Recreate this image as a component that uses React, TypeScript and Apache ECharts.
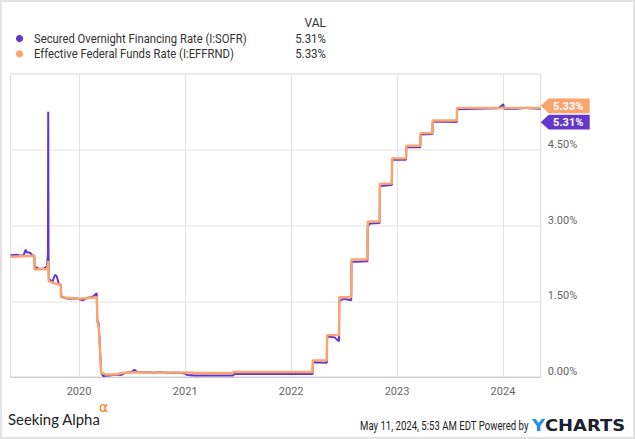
import React, { useEffect, useRef } from 'react';
import * as echarts from 'echarts';

const SERIES_NAMES = [
  'Secured Overnight Financing Rate (I:SOFR)',
  'Effective Federal Funds Rate (I:EFFRND)',
];
const SERIES_COLORS = ['#6536c9', '#fba56c'];
const LATEST_VALUES = [5.31, 5.33];
const VALUE_HEADER = 'VAL';
const X_MIN = '2019-05-10';
const X_MAX = '2024-05-10';
const Y_MIN = 0;
const Y_MAX = 6;
const Y_STEP = 1.5;
const FOOTER_BRAND = 'Seeking Alpha';
const FOOTER_ALPHA = 'α';
const FOOTER_DATE = 'May 11, 2024, 5:53 AM EDT Powered by';

const SOFR: [string, number][] = [
  ['2019-05-10', 2.41], ['2019-05-31', 2.42], ['2019-06-14', 2.40], ['2019-06-24', 2.41],
  ['2019-07-01', 2.52], ['2019-07-05', 2.47], ['2019-07-16', 2.46], ['2019-07-24', 2.41],
  ['2019-07-31', 2.40], ['2019-08-01', 2.19], ['2019-08-15', 2.14], ['2019-09-03', 2.15],
  ['2019-09-13', 2.20], ['2019-09-16', 2.43], ['2019-09-17', 5.25], ['2019-09-18', 2.55],
  ['2019-09-19', 1.95], ['2019-09-24', 1.92], ['2019-10-01', 1.88], ['2019-10-10', 2.02],
  ['2019-10-16', 2.00], ['2019-10-24', 1.83], ['2019-10-31', 1.82], ['2019-11-01', 1.60],
  ['2019-11-15', 1.56], ['2019-12-02', 1.55], ['2019-12-16', 1.56], ['2019-12-31', 1.55],
  ['2020-01-02', 1.54], ['2020-01-15', 1.52], ['2020-01-31', 1.57], ['2020-02-10', 1.58],
  ['2020-02-20', 1.60], ['2020-03-02', 1.66], ['2020-03-04', 1.12], ['2020-03-09', 1.05],
  ['2020-03-16', 0.26], ['2020-03-17', 0.10], ['2020-03-24', 0.02], ['2020-04-15', 0.03],
  ['2020-05-11', 0.05], ['2020-05-25', 0.04], ['2020-06-08', 0.08], ['2020-06-30', 0.10],
  ['2020-07-10', 0.14], ['2020-07-20', 0.10], ['2020-08-17', 0.09], ['2020-09-01', 0.10],
  ['2020-09-15', 0.08], ['2020-10-01', 0.10], ['2020-10-20', 0.09], ['2020-11-16', 0.08],
  ['2020-12-01', 0.09], ['2020-12-31', 0.07], ['2021-01-08', 0.04], ['2021-02-01', 0.03],
  ['2021-03-01', 0.03], ['2021-04-15', 0.03], ['2021-05-20', 0.03], ['2021-06-16', 0.03],
  ['2021-06-17', 0.06], ['2021-08-02', 0.06], ['2021-09-30', 0.06], ['2021-12-31', 0.06],
  ['2022-03-16', 0.06], ['2022-03-17', 0.29], ['2022-05-04', 0.28], ['2022-05-05', 0.80],
  ['2022-05-20', 0.79], ['2022-06-01', 0.78], ['2022-06-10', 0.73], ['2022-06-15', 0.71],
  ['2022-06-16', 1.50], ['2022-06-30', 1.55], ['2022-07-27', 1.52], ['2022-07-28', 2.28],
  ['2022-08-15', 2.28], ['2022-09-21', 2.29], ['2022-09-22', 2.98], ['2022-09-30', 3.04],
  ['2022-11-02', 3.05], ['2022-11-03', 3.78], ['2022-12-14', 3.80], ['2022-12-15', 4.30],
  ['2023-02-01', 4.30], ['2023-02-02', 4.55], ['2023-03-22', 4.55], ['2023-03-23', 4.80],
  ['2023-05-03', 4.81], ['2023-05-04', 5.06], ['2023-07-26', 5.05], ['2023-07-27', 5.30],
  ['2023-09-29', 5.31], ['2023-10-02', 5.31], ['2023-12-15', 5.32], ['2023-12-29', 5.38],
  ['2024-01-02', 5.40], ['2024-01-05', 5.31], ['2024-02-15', 5.31], ['2024-03-28', 5.33],
  ['2024-04-01', 5.32], ['2024-05-10', 5.31],
];

const EFFR: [string, number][] = [
  ['2019-05-10', 2.38], ['2019-07-31', 2.40], ['2019-08-01', 2.13], ['2019-09-13', 2.14],
  ['2019-09-16', 2.25], ['2019-09-17', 2.30], ['2019-09-18', 2.25], ['2019-09-19', 1.90],
  ['2019-10-10', 1.85], ['2019-10-30', 1.83], ['2019-10-31', 1.58], ['2019-12-31', 1.55],
  ['2020-01-02', 1.55], ['2020-03-03', 1.58], ['2020-03-04', 1.09], ['2020-03-09', 1.00],
  ['2020-03-16', 0.25], ['2020-03-17', 0.10], ['2020-03-20', 0.08], ['2020-04-01', 0.05],
  ['2020-05-01', 0.05], ['2020-06-01', 0.08], ['2020-07-01', 0.09], ['2020-12-31', 0.09],
  ['2021-01-04', 0.09], ['2021-03-01', 0.08], ['2021-06-16', 0.08], ['2021-06-17', 0.10],
  ['2022-03-16', 0.10], ['2022-03-17', 0.33], ['2022-05-04', 0.33], ['2022-05-05', 0.83],
  ['2022-06-15', 0.83], ['2022-06-16', 1.58], ['2022-07-27', 1.58], ['2022-07-28', 2.33],
  ['2022-09-21', 2.33], ['2022-09-22', 3.08], ['2022-11-02', 3.08], ['2022-11-03', 3.83],
  ['2022-12-14', 3.83], ['2022-12-15', 4.33], ['2023-02-01', 4.33], ['2023-02-02', 4.58],
  ['2023-03-22', 4.58], ['2023-03-23', 4.83], ['2023-05-03', 4.83], ['2023-05-04', 5.08],
  ['2023-07-26', 5.08], ['2023-07-27', 5.33], ['2024-05-10', 5.33],
];

const SERIES_DATA = [SOFR, EFFR];
const LINE_WIDTHS = [2, 2.4];

export default function App() {
  const ref = useRef<HTMLDivElement>(null);

  useEffect(() => {
    document.body.style.margin = '0';
    if (!ref.current) return;
    const chart = echarts.init(ref.current, undefined, { renderer: 'svg' });

    const baseGraphic: any[] = [
      {
        type: 'rect',
        shape: { x: 0, y: 0, width: 635, height: 439 },
        style: { fill: 'none', stroke: '#e3e3e3', lineWidth: 4 },
        silent: true,
      },
      {
        type: 'text',
        x: 326, y: 23,
        style: { text: VALUE_HEADER, align: 'right', verticalAlign: 'middle', fill: '#333', font: '12px Roboto' },
      },
      ...SERIES_NAMES.flatMap((name, i) => [
        {
          type: 'circle',
          shape: { cx: 19.5, cy: 38.5 + i * 15.3, r: 3.6 },
          style: { fill: SERIES_COLORS[i] },
        },
        {
          type: 'text',
          x: 34, y: 38.5 + i * 15.3, scaleX: 0.94,
          style: { text: name, verticalAlign: 'middle', fill: '#333', font: '12px Roboto' },
        },
        {
          type: 'text',
          x: 326, y: 38.5 + i * 15.3, scaleX: 0.96,
          style: { text: LATEST_VALUES[i].toFixed(2) + '%', align: 'right', verticalAlign: 'middle', fill: '#333', font: '12px Roboto' },
        },
      ]),
      {
        type: 'text',
        x: 8, y: 419, scaleX: 0.96,
        style: { text: FOOTER_BRAND, verticalAlign: 'middle', fill: '#222', font: '15.5px Lato' },
      },
      {
        type: 'text',
        x: 99, y: 407,
        style: { text: FOOTER_ALPHA, verticalAlign: 'middle', fill: '#ff7a1a', font: '14px "DejaVu Sans"' },
      },
      {
        type: 'text',
        x: 360, y: 426.5, scaleX: 0.8,
        style: { text: FOOTER_DATE, verticalAlign: 'middle', fill: '#222', font: '12px Roboto' },
      },
      {
        type: 'text',
        x: 532, y: 425.5, scaleX: 1.12,
        style: {
          text: '{y|Y}{c|CHARTS}',
          verticalAlign: 'middle',
          rich: {
            y: { fill: '#1e90e6', font: 'bold 16px "DejaVu Sans"' },
            c: { fill: '#1b2030', font: 'bold 16px "DejaVu Sans"' },
          },
        },
      },
    ];

    const option: any = {
      animation: false,
      backgroundColor: '#ffffff',
      grid: {
        left: 10.5, right: 94.3, top: 74, bottom: 62,
        show: true, borderColor: '#d2d2d2', borderWidth: 1,
        outerBoundsMode: 'none',
      },
      xAxis: {
        type: 'time',
        min: X_MIN,
        max: X_MAX,
        splitNumber: 5,
        minInterval: 365 * 86400000,
        axisLine: { show: true, lineStyle: { color: '#cccccc' } },
        axisTick: { show: false },
        axisLabel: {
          color: '#666', fontSize: 11, fontFamily: 'Roboto', margin: 9,
          formatter: (v: number) => {
            const d = new Date(v);
            return d.getMonth() === 0 && d.getDate() === 1 ? String(d.getFullYear()) : '';
          },
        },
        splitLine: { show: true, lineStyle: { color: '#e2e2e2', width: 1 } },
      },
      yAxis: {
        type: 'value',
        position: 'right',
        min: Y_MIN,
        max: Y_MAX,
        interval: Y_STEP,
        axisLine: { show: false },
        axisTick: { show: false },
        axisLabel: {
          color: '#666', fontSize: 11, fontFamily: 'Roboto', margin: 7,
          align: 'left', verticalAlign: 'bottom',
          formatter: (v: number) => (v >= Y_MAX ? '' : v.toFixed(2) + '%'),
        },
        splitLine: { show: true, lineStyle: { color: '#ededed', width: 1.5 } },
      },
      series: SERIES_NAMES.map((name, i) => ({
        name,
        type: 'line',
        data: SERIES_DATA[i],
        showSymbol: false,
        symbol: 'none',
        lineStyle: { color: SERIES_COLORS[i], width: LINE_WIDTHS[i] },
        itemStyle: { color: SERIES_COLORS[i] },
        z: 2 + i,
      })),
      graphic: baseGraphic,
    };
    chart.setOption(option);

    // End-value tags on the right axis, placed from the last data values
    const lastSofr = SOFR[SOFR.length - 1];
    const lastEffr = EFFR[EFFR.length - 1];
    const pE = chart.convertToPixel({ xAxisIndex: 0, yAxisIndex: 0 }, lastEffr as any) as number[];
    const pS = chart.convertToPixel({ xAxisIndex: 0, yAxisIndex: 0 }, lastSofr as any) as number[];
    const tipX = Math.max(pE[0], pS[0]);
    const topVal = lastEffr[1] >= lastSofr[1] ? 1 : 0;
    const cyTop = Math.min(pE[1], pS[1]) - 2;
    const tags = [topVal, 1 - topVal].map((idx, k) => {
      const cy = cyTop + k * 16.3;
      const h = 7.3;
      return {
        type: 'group',
        children: [
          {
            type: 'polygon',
            shape: {
              points: [
                [tipX, cy], [tipX + 8, cy - h], [tipX + 49, cy - h],
                [tipX + 49, cy + h], [tipX + 8, cy + h],
              ],
            },
            style: { fill: SERIES_COLORS[idx] },
          },
          {
            type: 'text',
            x: tipX + 27.5, y: cy + 0.5,
            style: {
              text: LATEST_VALUES[idx].toFixed(2) + '%',
              align: 'center', verticalAlign: 'middle',
              fill: '#ffffff', font: 'bold 11px Roboto',
            },
          },
        ],
      };
    });
    chart.setOption({ graphic: [...baseGraphic, ...tags] }, { replaceMerge: ['graphic'] } as any);

    return () => chart.dispose();
  }, []);

  return <div ref={ref} style={{ width: 635, height: 439 }} />;
}
